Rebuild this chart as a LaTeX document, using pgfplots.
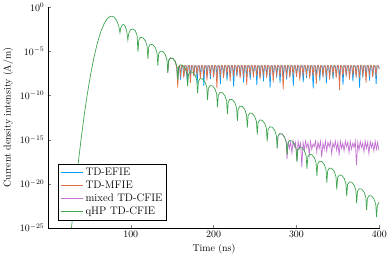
\documentclass[border=0pt]{standalone}
\usepackage{pgfplots}
\usepackage{pgfplotstable}
\pgfplotsset{compat=1.18}
\definecolor{cblue}{RGB}{0,154,250}
\definecolor{cred}{RGB}{227,111,71}
\definecolor{cgreen}{RGB}{62,164,78}
\definecolor{cpurple}{RGB}{195,113,210}

% values are log10 of the current density
\pgfplotstableread{
t e
28 -25.5
30 -23.5
33 -20.7
36 -18.1
40 -15.0
44 -12.1
48 -9.58
52 -7.38
56 -5.50
60 -3.95
64 -2.72
68 -1.83
71 -1.37
74 -1.09
77 -1.0
80 -1.1
83 -1.5
85.5 -2.1
87 -2.9
88 -2.3
90 -2.0
91.5 -1.95
93 -2.1
95 -2.6
96.5 -3.7
97.5 -3.0
99.5 -2.55
102.5 -2.45
105.5 -2.65
107.7 -3.2
108.7 -5.06
109.7 -3.72
111.7 -3.41
114.7 -3.45
117.7 -3.80
119.7 -4.37
120.7 -5.84
121.7 -4.50
123.7 -4.19
126.7 -4.23
129.7 -4.58
131.7 -5.15
132.7 -6.62
133.7 -5.28
135.7 -4.97
138.7 -5.01
141.7 -5.36
143.7 -5.93
144.7 -7.40
145.7 -6.06
147.7 -5.75
150.7 -5.79
153.7 -6.14
155.7 -6.71
156.7 -8.18
157.7 -6.84
159.7 -6.53
162.7 -6.57
165.7 -6.92
167.7 -7.49
168.7 -8.96
169.7 -7.62
171.7 -7.31
174.7 -7.35
177.7 -7.70
179.7 -8.27
180.7 -9.74
181.7 -8.40
183.7 -8.09
186.7 -8.13
189.7 -8.48
191.7 -9.05
192.7 -10.52
193.7 -9.18
195.7 -8.87
198.7 -8.91
201.7 -9.26
203.7 -9.83
204.7 -11.30
205.7 -9.96
207.7 -9.65
210.7 -9.69
213.7 -10.04
215.7 -10.61
216.7 -12.08
217.7 -10.74
219.7 -10.43
222.7 -10.47
225.7 -10.82
227.7 -11.39
228.7 -12.86
229.7 -11.52
231.7 -11.21
234.7 -11.25
237.7 -11.60
239.7 -12.17
240.7 -13.64
241.7 -12.30
243.7 -11.99
246.7 -12.03
249.7 -12.38
251.7 -12.95
252.7 -14.42
253.7 -13.08
255.7 -12.77
258.7 -12.81
261.7 -13.16
263.7 -13.73
264.7 -15.20
265.7 -13.86
267.7 -13.55
270.7 -13.59
273.7 -13.94
275.7 -14.51
276.7 -15.98
277.7 -14.64
279.7 -14.33
282.7 -14.37
285.7 -14.72
287.7 -15.29
288.7 -16.76
289.7 -15.42
291.7 -15.11
294.7 -15.15
297.7 -15.50
299.7 -16.07
300.7 -17.54
301.7 -16.20
303.7 -15.89
306.7 -15.93
309.7 -16.28
311.7 -16.85
312.7 -18.32
313.7 -16.98
315.7 -16.67
318.7 -16.71
321.7 -17.06
323.7 -17.63
324.7 -19.10
325.7 -17.76
327.7 -17.45
330.7 -17.49
333.7 -17.84
335.7 -18.41
336.7 -19.88
337.7 -18.54
339.7 -18.23
342.7 -18.27
345.7 -18.62
347.7 -19.19
348.7 -20.66
349.7 -19.32
351.7 -19.01
354.7 -19.05
357.7 -19.40
359.7 -19.97
360.7 -21.44
361.7 -20.10
363.7 -19.79
366.7 -19.83
369.7 -20.18
371.7 -20.75
372.7 -22.22
373.7 -20.88
375.7 -20.57
378.7 -20.61
381.7 -20.96
383.7 -21.53
384.7 -23.00
385.7 -21.66
387.7 -21.35
390.7 -21.39
393.7 -21.74
395.7 -22.31
396.7 -23.78
397.7 -22.44
399.7 -22.13
400 -22.14
}\qhp

\pgfplotstableread{
t e
144.7 -7.40
145.7 -6.06
147.7 -5.75
150.7 -5.79
153.7 -6.14
155.7 -6.9
156.7 -9.1
157.7 -6.75
158.8 -6.62
160 -7.7
161.2 -6.60
162.8 -6.64
164 -8.0
165.2 -6.60
166.8 -6.64
168 -7.6
169.2 -6.60
170.8 -6.64
172 -8.6
173.2 -6.60
174.8 -6.64
176 -7.8
177.2 -6.60
178.8 -6.64
180 -7.6
181.2 -6.60
182.8 -6.64
184 -8.1
185.2 -6.60
186.8 -6.64
188 -7.7
189.2 -6.60
190.8 -6.64
192 -8.3
193.2 -6.60
194.8 -6.64
196 -7.6
197.2 -6.60
198.8 -6.64
200 -7.9
201.2 -6.60
202.8 -6.64
204 -9.2
205.2 -6.60
206.8 -6.64
208 -7.7
209.2 -6.60
210.8 -6.64
212 -8.0
213.2 -6.60
214.8 -6.64
216 -7.6
217.2 -6.60
218.8 -6.64
220 -8.4
221.2 -6.60
222.8 -6.64
224 -7.8
225.2 -6.60
226.8 -6.64
228 -7.6
229.2 -6.60
230.8 -6.64
232 -8.0
233.2 -6.60
234.8 -6.64
236 -7.7
237.2 -6.60
238.8 -6.64
240 -8.8
241.2 -6.60
242.8 -6.64
244 -7.6
245.2 -6.60
246.8 -6.64
248 -7.9
249.2 -6.60
250.8 -6.64
252 -7.8
253.2 -6.60
254.8 -6.64
256 -8.2
257.2 -6.60
258.8 -6.64
260 -7.6
261.2 -6.60
262.8 -6.64
264 -8.0
265.2 -6.60
266.8 -6.64
268 -7.7
269.2 -6.60
270.8 -6.64
272 -8.5
273.2 -6.60
274.8 -6.64
276 -7.6
277.2 -6.60
278.8 -6.64
280 -7.8
281.2 -6.60
282.8 -6.64
284 -9.3
285.2 -6.60
286.8 -6.64
288 -7.7
289.2 -6.60
290.8 -6.64
292 -8.0
293.2 -6.60
294.8 -6.64
296 -7.6
297.2 -6.60
298.8 -6.64
300 -7.9
301.2 -6.60
302.8 -6.64
304 -8.3
305.2 -6.60
306.8 -6.64
308 -7.7
309.2 -6.60
310.8 -6.64
312 -7.6
313.2 -6.60
314.8 -6.64
316 -8.1
317.2 -6.60
318.8 -6.64
320 -7.8
321.2 -6.60
322.8 -6.64
324 -8.7
325.2 -6.60
326.8 -6.64
328 -7.6
329.2 -6.60
330.8 -6.64
332 -7.9
333.2 -6.60
334.8 -6.64
336 -7.7
337.2 -6.60
338.8 -6.64
340 -8.2
341.2 -6.60
342.8 -6.64
344 -7.6
345.2 -6.60
346.8 -6.64
348 -8.0
349.2 -6.60
350.8 -6.64
352 -9.4
353.2 -6.60
354.8 -6.64
356 -7.8
357.2 -6.60
358.8 -6.64
360 -7.7
361.2 -6.60
362.8 -6.64
364 -8.2
365.2 -6.60
366.8 -6.64
368 -7.6
369.2 -6.60
370.8 -6.64
372 -7.9
373.2 -6.60
374.8 -6.64
376 -8.0
377.2 -6.60
378.8 -6.64
380 -7.7
381.2 -6.60
382.8 -6.64
384 -8.6
385.2 -6.60
386.8 -6.64
388 -7.6
389.2 -6.60
390.8 -6.64
392 -7.9
393.2 -6.60
394.8 -6.64
396 -7.7
397.2 -6.60
398.8 -6.64
400 -7.0
}\mfie

\pgfplotstableread{
t e
144.7 -7.40
145.7 -6.06
147.7 -5.75
150.7 -5.79
153.7 -6.14
155.7 -6.8
156.7 -8.6
157.7 -6.8
158.9 -6.64
160.2 -8.2
161.4 -6.64
163.0 -6.66
164.2 -7.8
165.4 -6.64
167.0 -6.66
168.2 -8.4
169.4 -6.64
171.0 -6.66
172.2 -7.9
173.4 -6.64
175.0 -6.66
176.2 -7.6
177.4 -6.64
179.0 -6.66
180.2 -8.6
181.4 -6.64
183.0 -6.66
184.2 -7.8
185.4 -6.64
187.0 -6.66
188.2 -8.9
189.4 -6.64
191.0 -6.66
192.2 -7.8
193.4 -6.64
195.0 -6.66
196.2 -8.1
197.4 -6.64
199.0 -6.66
200.2 -7.7
201.4 -6.64
203.0 -6.66
204.2 -8.0
205.4 -6.64
207.0 -6.66
208.2 -8.7
209.4 -6.64
211.0 -6.66
212.2 -7.8
213.4 -6.64
215.0 -6.66
216.2 -8.3
217.4 -6.64
219.0 -6.66
220.2 -7.9
221.4 -6.64
223.0 -6.66
224.2 -9.0
225.4 -6.64
227.0 -6.66
228.2 -7.8
229.4 -6.64
231.0 -6.66
232.2 -7.8
233.4 -6.64
235.0 -6.66
236.2 -8.5
237.4 -6.64
239.0 -6.66
240.2 -7.9
241.4 -6.64
243.0 -6.66
244.2 -8.2
245.4 -6.64
247.0 -6.66
248.2 -7.7
249.4 -6.64
251.0 -6.66
252.2 -8.8
253.4 -6.64
255.0 -6.66
256.2 -7.9
257.4 -6.64
259.0 -6.66
260.2 -8.4
261.4 -6.64
263.0 -6.66
264.2 -7.8
265.4 -6.64
267.0 -6.66
268.2 -9.1
269.4 -6.64
271.0 -6.66
272.2 -7.9
273.4 -6.64
275.0 -6.66
276.2 -8.0
277.4 -6.64
279.0 -6.66
280.2 -8.6
281.4 -6.64
283.0 -6.66
284.2 -7.9
285.4 -6.64
287.0 -6.66
288.2 -8.2
289.4 -6.64
291.0 -6.66
292.2 -7.8
293.4 -6.64
295.0 -6.66
296.2 -8.9
297.4 -6.64
299.0 -6.66
300.2 -7.8
301.4 -6.64
303.0 -6.66
304.2 -7.9
305.4 -6.64
307.0 -6.66
308.2 -8.5
309.4 -6.64
311.0 -6.66
312.2 -8.0
313.4 -6.64
315.0 -6.66
316.2 -7.8
317.4 -6.64
319.0 -6.66
320.2 -9.2
321.4 -6.64
323.0 -6.66
324.2 -7.9
325.4 -6.64
327.0 -6.66
328.2 -8.3
329.4 -6.64
331.0 -6.66
332.2 -7.7
333.4 -6.64
335.0 -6.66
336.2 -8.6
337.4 -6.64
339.0 -6.66
340.2 -7.8
341.4 -6.64
343.0 -6.66
344.2 -8.1
345.4 -6.64
347.0 -6.66
348.2 -7.8
349.4 -6.64
351.0 -6.66
352.2 -8.0
353.4 -6.64
355.0 -6.66
356.2 -8.8
357.4 -6.64
359.0 -6.66
360.2 -7.8
361.4 -6.64
363.0 -6.66
364.2 -7.9
365.4 -6.64
367.0 -6.66
368.2 -8.4
369.4 -6.64
371.0 -6.66
372.2 -7.7
373.4 -6.64
375.0 -6.66
376.2 -9.1
377.4 -6.64
379.0 -6.66
380.2 -7.9
381.4 -6.64
383.0 -6.66
384.2 -7.9
385.4 -6.64
387.0 -6.66
388.2 -8.3
389.4 -6.64
391.0 -6.66
392.2 -7.8
393.4 -6.64
395.0 -6.66
396.2 -8.7
397.4 -6.64
399.0 -6.66
400 -6.9
}\efie

\pgfplotstableread{
t e
276.7 -15.98
277.7 -14.64
279.7 -14.33
282.7 -14.37
285.7 -14.72
287.7 -15.29
288.7 -17.2
290 -15.2
291.5 -16.0
293 -15.3
294.5 -16.5
296 -15.15
297.5 -15.8
299 -15.3
300.5 -17.4
302 -15.2
303.5 -16.0
305 -15.4
306.5 -18.1
308 -15.3
309.5 -16.2
311 -15.15
312.5 -15.9
314 -15.4
315.5 -16.7
317 -15.2
318.5 -16.1
320 -15.5
321.5 -15.8
323 -15.15
324.5 -16.4
326 -15.3
327.5 -16.0
329 -15.2
330.5 -17.0
332 -15.4
333.5 -16.1
335 -15.15
336.5 -16.3
338 -15.3
339.5 -15.8
341 -15.2
342.5 -16.6
344 -15.4
345.5 -15.9
347 -15.15
348.5 -16.2
350 -15.3
351.5 -16.8
353 -15.2
354.5 -16.0
356 -15.4
357.5 -16.3
359 -15.15
360.5 -15.8
362 -15.3
363.5 -16.5
365 -15.2
366.5 -16.1
368 -15.4
369.5 -15.9
371 -15.15
372.5 -17.9
374 -15.3
375.5 -16.2
377 -15.2
378.5 -15.9
380 -15.4
381.5 -16.4
383 -15.15
384.5 -16.0
386 -15.3
387.5 -16.6
389 -15.2
390.5 -15.9
392 -15.4
393.5 -16.3
395 -15.15
396.5 -16.1
398 -15.3
399.5 -16.2
}\mixed

\begin{document}
\begin{tikzpicture}
\begin{axis}[
  scale only axis,
  width=336pt, height=223pt,
  xmin=0, xmax=401,
  ymode=log, ymin=1e-25, ymax=1,
  axis lines*=left,
  xtick={100,200,300,400},
  ytick={1e-25,1e-20,1e-15,1e-10,1e-5,1},
  minor tick num=0,
  tick align=inside,
  major tick length=3pt,
  xlabel={Time (ns)},
  ylabel={Current density intensity (A/m)},
  legend style={at={(0.03,0.035)}, anchor=south west, draw=black,
    font=\fontsize{11}{13}\selectfont, row sep=0pt, inner sep=2pt},
  legend cell align=left,
  legend image code/.code={\draw[#1, line width=1.1pt] (0cm,0cm) -- (0.8cm,0cm);},
  every axis plot/.append style={line width=0.7pt},
]
\addplot[cblue] table[x=t, y expr=10^(\thisrow{e})] {\efie};
\addlegendentry{TD-EFIE}
\addplot[cred] table[x=t, y expr=10^(\thisrow{e})] {\mfie};
\addlegendentry{TD-MFIE}
\addplot[cpurple] table[x=t, y expr=10^(\thisrow{e})] {\mixed};
\addlegendentry{mixed TD-CFIE}
\addplot[cgreen] table[x=t, y expr=10^(\thisrow{e})] {\qhp};
\addlegendentry{qHP TD-CFIE}
\end{axis}
\end{tikzpicture}
\end{document}
